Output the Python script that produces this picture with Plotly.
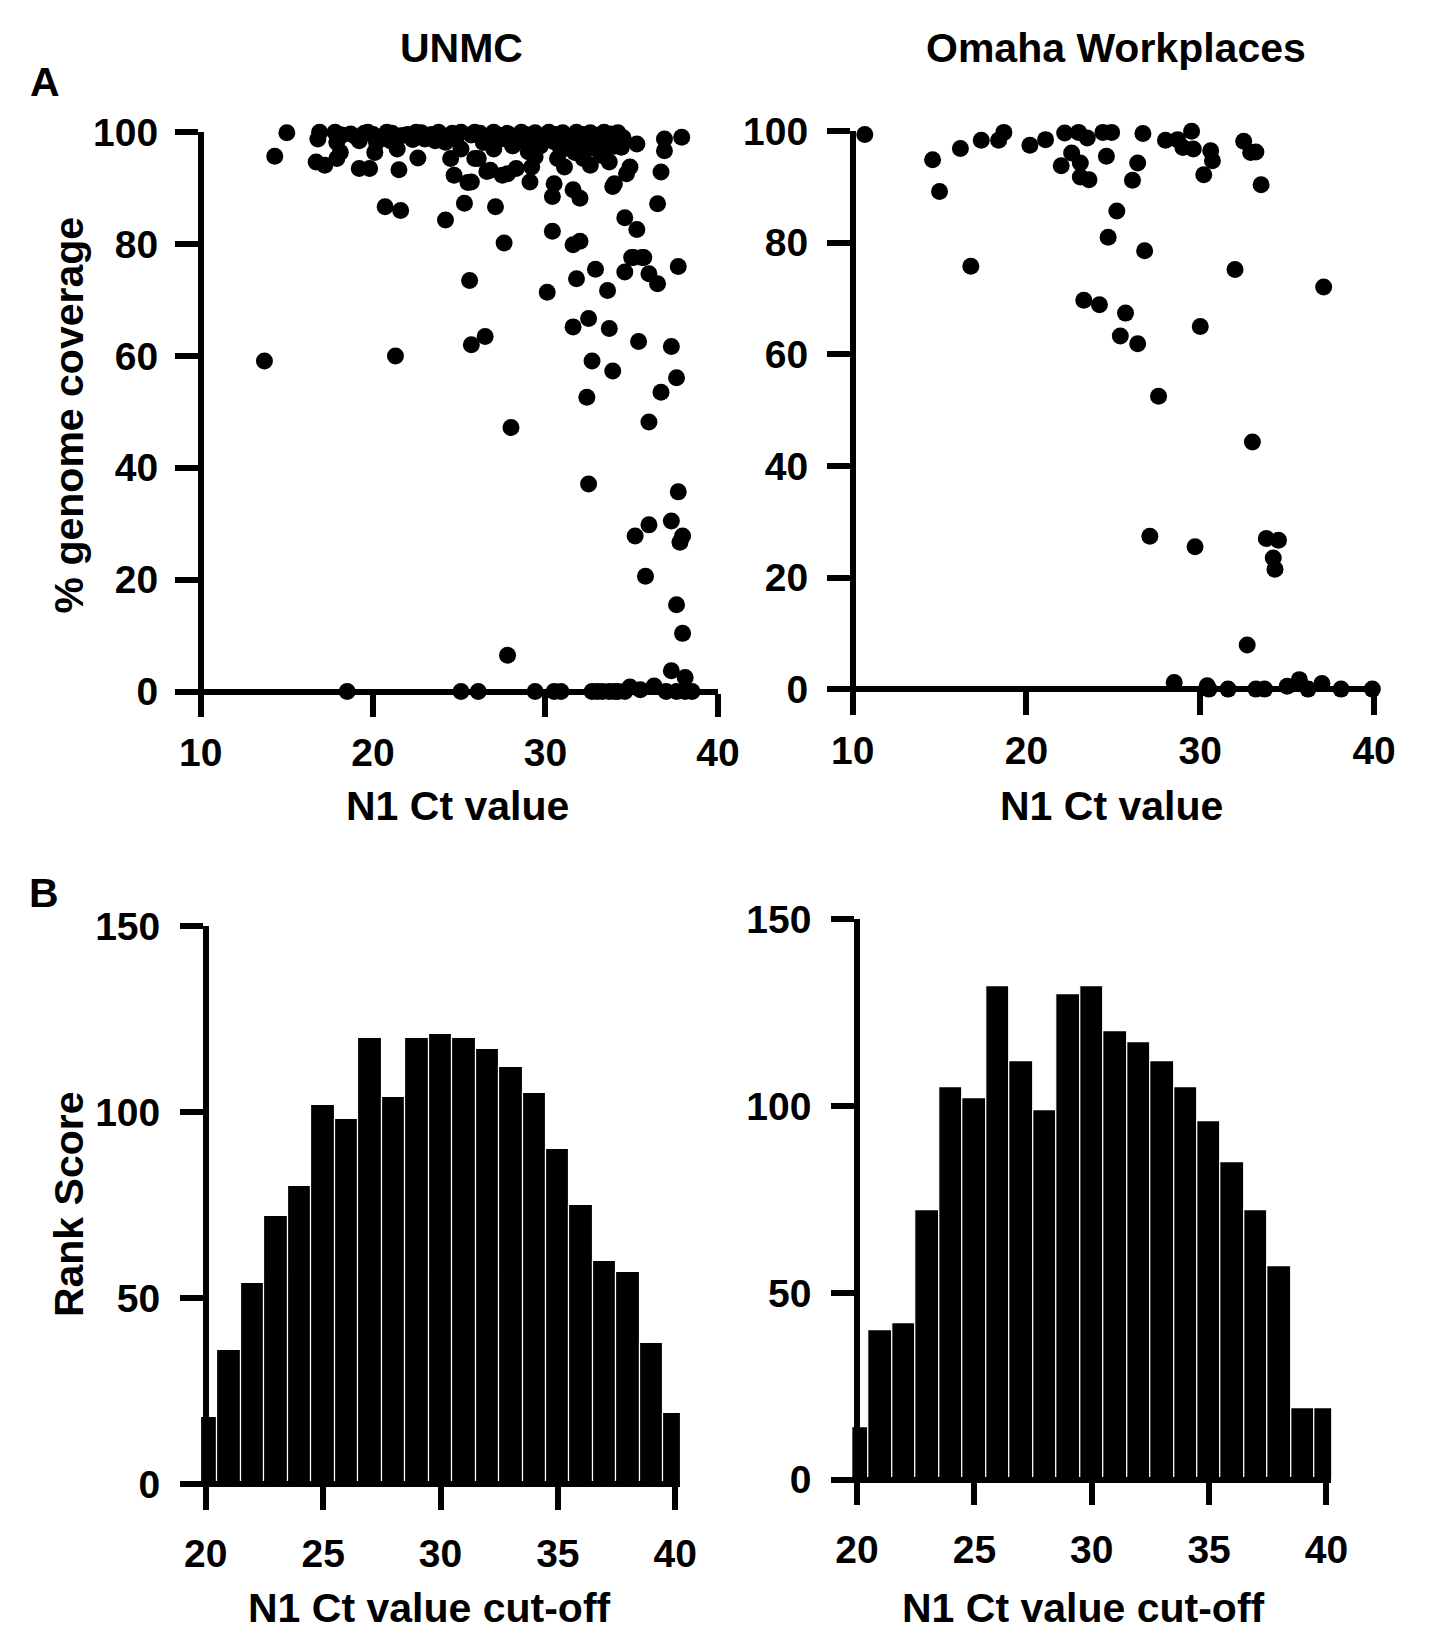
import plotly.graph_objects as go

W, H = 1430, 1632

# ---- Panel A: UNMC, N1 Ct value vs % genome coverage ----
unmc_ct = [
    15.0, 14.3, 16.9, 16.8, 17.8, 17.9, 16.7, 17.2, 17.9, 18.1, 19.2, 19.8, 21.5, 18.7, 19.2, 19.7,
    20.1, 20.2, 20.8, 21.4, 21.7, 22.5, 22.6, 23.0, 23.8, 24.2, 24.5, 24.7, 25.1, 25.5, 25.3, 24.2,
    20.7, 21.6, 25.9, 25.1, 25.9, 26.6,
    18.2, 19.0, 20.0, 20.5, 21.1, 22.0, 22.8, 23.4, 24.0, 24.6, 21.0, 22.3, 23.6, 19.5, 24.8,
    25.7, 26.2, 26.6, 27.0, 27.4, 27.8, 28.2, 28.6, 29.0, 29.4, 29.8, 30.2, 30.6, 31.0, 31.4, 31.8,
    32.2, 32.6, 33.0, 33.4, 33.8, 34.2, 34.5, 26.4, 27.4, 28.1, 28.9, 29.7, 30.5, 31.2, 32.0, 32.8,
    33.5, 34.0, 30.9, 32.4, 33.4, 29.0, 27.0,
    37.9, 36.9, 36.9, 36.7, 36.5, 35.3, 34.4, 34.9, 34.7, 34.0, 33.9, 33.7, 33.2, 32.6, 32.2, 31.7,
    31.1, 30.7, 31.6, 32.0, 30.5, 30.4, 30.4, 29.4, 29.1, 29.2, 28.3, 27.8, 27.5, 26.8, 26.1, 25.7,
    27.1, 27.6, 34.6, 35.3, 31.6, 32.0, 35.0, 35.7, 28.9, 29.7, 28.1, 27.4, 26.4,
    13.7, 21.3, 25.6, 25.7, 26.5, 30.1, 31.6, 32.5, 33.7, 31.8, 32.9, 33.6, 34.6, 35.1, 35.6, 36.0,
    36.5, 37.7, 35.4, 37.3, 32.7, 33.9, 37.6, 36.7, 32.4, 36.0, 28.0,
    32.5, 37.7, 35.2, 36.0, 37.3, 37.95, 37.8, 35.8, 37.6, 37.95, 27.8, 37.3, 38.1,
    18.5, 25.1, 26.1, 29.4, 30.5, 30.9, 32.7, 33.0, 33.3, 33.7, 34.0, 34.2, 34.6, 34.9, 35.5, 36.3,
    37.0, 37.6, 38.1, 38.5,
]
unmc_cov = [
    99.9, 95.7, 100.0, 98.8, 100.0, 98.2, 94.7, 94.1, 95.3, 96.4, 93.5, 93.5, 93.3, 99.7, 98.5, 100.0,
    96.4, 98.2, 100.0, 97.0, 99.4, 100.0, 95.4, 98.8, 100.0, 98.2, 95.3, 92.3, 97.0, 91.0, 87.3, 84.3,
    86.7, 86.0, 95.3, 100.0, 100.0, 93.0,
    99.5, 99.2, 99.6, 99.0, 99.8, 99.6, 99.9, 99.6, 99.3, 99.8, 98.5, 98.7, 98.5, 99.8, 98.9,
    99.5, 99.8, 99.2, 100.0, 99.4, 99.8, 99.2, 100.0, 99.5, 99.9, 99.3, 100.0, 99.6, 99.9, 99.2, 100.0,
    99.6, 99.9, 99.4, 100.0, 99.7, 99.9, 99.0, 98.2, 98.8, 97.6, 98.2, 97.6, 98.3, 97.9, 98.5, 97.8,
    98.2, 97.5, 96.8, 96.9, 97.0, 96.5, 97.0,
    99.1, 98.8, 96.7, 92.9, 87.2, 97.9, 97.3, 93.8, 92.6, 90.8, 90.3, 94.7, 95.9, 94.1, 95.3, 96.4,
    93.8, 95.3, 89.7, 88.2, 90.8, 88.5, 82.3, 95.6, 91.1, 93.8, 93.5, 92.6, 92.3, 93.2, 95.3, 91.1,
    86.7, 80.2, 84.7, 82.6, 79.9, 80.5, 77.6, 77.6, 98.2, 97.6, 97.6, 98.8, 98.2,
    59.1, 60.0, 73.5, 62.0, 63.5, 71.4, 65.2, 66.7, 64.9, 73.8, 75.5, 71.7, 75.0, 77.6, 77.6, 74.7,
    72.9, 76.0, 62.6, 61.7, 59.1, 57.3, 56.1, 53.5, 52.6, 48.2, 47.2,
    37.1, 35.7, 27.8, 29.8, 30.5, 27.8, 26.7, 20.6, 15.5, 10.4, 6.5, 3.7, 2.5,
    0.0, 0.0, 0.0, 0.0, 0.0, 0.0, 0.0, 0.0, 0.0, 0.0, 0.0, 0.0, 0.0, 0.8, 0.3, 1.0,
    0.0, 0.0, 0.0, 0.0,
]

# ---- Panel A: Omaha Workplaces ----
omaha_ct = [
    10.7, 14.6, 15.0, 16.2, 16.8, 17.4, 18.4, 18.7, 20.2, 21.1, 22.2, 23.0, 23.5, 22.6, 22.0, 23.1,
    23.1, 23.6, 24.6, 24.4, 24.9, 26.7, 26.4, 26.1, 25.2, 24.7, 26.8, 28.0, 28.7, 29.0, 29.5, 29.6,
    30.6, 30.7, 30.2, 32.5, 32.9, 33.2, 33.5, 32.0, 37.1, 23.3, 24.2, 25.7, 25.4, 26.4, 30.0, 27.6,
    33.0, 27.1, 29.7, 33.8, 34.5, 34.2, 34.3, 32.7,
    28.5, 30.4, 30.5, 31.6, 33.2, 33.7, 35.0, 35.7, 36.2, 37.0, 38.1, 39.9,
]
omaha_cov = [
    99.4, 94.9, 89.2, 96.9, 75.8, 98.4, 98.4, 99.8, 97.5, 98.5, 99.7, 99.8, 98.8, 96.1, 93.8, 94.3,
    91.8, 91.3, 95.5, 99.8, 99.8, 99.6, 94.3, 91.2, 85.7, 81.0, 78.6, 98.4, 98.5, 97.1, 100.0, 96.8,
    96.5, 94.7, 92.2, 98.2, 96.2, 96.3, 90.4, 75.2, 72.1, 69.7, 68.9, 67.4, 63.3, 61.9, 65.0, 52.5,
    44.3, 27.4, 25.5, 27.0, 26.7, 23.5, 21.5, 7.9,
    1.2, 0.6, 0.0, 0.0, 0.0, 0.0, 0.5, 1.7, 0.0, 1.0, 0.0, 0.0,
]

# ---- Panel B: rank score per N1 Ct cut-off ----
cutoff = [20, 21, 22, 23, 24, 25, 26, 27, 28, 29, 30, 31, 32, 33, 34, 35, 36, 37, 38, 39, 40]
unmc_rank = [18, 36, 54, 72, 80, 102, 98, 120, 104, 120, 121, 120, 117, 112, 105, 90, 75, 60, 57, 38, 19]
omaha_rank = [14, 40, 42, 72, 105, 102, 132, 112, 99, 130, 132, 120, 117, 112, 105, 96, 85, 72, 57, 19, 19]


def px(x):
    return x / W


def py(y):
    return 1 - y / H


FONT = "Liberation Sans, Arial, sans-serif"
LW = 5.5

fig = go.Figure()

fig.add_trace(go.Scatter(x=unmc_ct, y=unmc_cov, mode="markers", xaxis="x", yaxis="y",
                         marker=dict(color="black", size=17), cliponaxis=False))
fig.add_trace(go.Scatter(x=omaha_ct, y=omaha_cov, mode="markers", xaxis="x2", yaxis="y2",
                         marker=dict(color="black", size=17), cliponaxis=False))
fig.add_trace(go.Bar(x=cutoff, y=unmc_rank, xaxis="x3", yaxis="y3", width=1,
                     marker=dict(color="black", line=dict(color="white", width=1.2))))
fig.add_trace(go.Bar(x=cutoff, y=omaha_rank, xaxis="x4", yaxis="y4", width=1,
                     marker=dict(color="black", line=dict(color="white", width=1.2))))


def ax(**kw):
    d = dict(showline=True, linecolor="black", linewidth=LW, ticks="outside", ticklen=23,
             tickwidth=LW, tickcolor="black", showgrid=False, zeroline=False,
             tickfont=dict(family=FONT, size=39, color="black", weight="bold"),
             fixedrange=True)
    d.update(kw)
    return d


fig.update_layout(
    width=W, height=H, margin=dict(l=0, r=0, t=0, b=0),
    plot_bgcolor="white", paper_bgcolor="white", showlegend=False, bargap=0,
    # A left
    xaxis=ax(domain=[px(184.3), px(718)], range=[10, 40], tickvals=[10, 20, 30, 40],
             anchor="free", position=py(679.3), ticklabelstandoff=2),
    yaxis=ax(domain=[py(703.3), py(112.7)], range=[-4.24, 100], tickvals=[0, 20, 40, 60, 80, 100],
             anchor="free", position=px(184.3), ticklabelstandoff=9),
    # A right
    xaxis2=ax(domain=[px(857), px(1395)], range=[10, 40], tickvals=[10, 20, 30, 40],
              anchor="free", position=py(676.7), ticklabelstandoff=2),
    yaxis2=ax(domain=[py(700), py(111.7)], range=[-4.1, 100], tickvals=[0, 20, 40, 60, 80, 100],
              anchor="free", position=px(857), ticklabelstandoff=11),
    # B left
    xaxis3=ax(domain=[px(184.8), px(678.8)], range=[19.8, 40.2], tickvals=[20, 25, 30, 35, 40],
              anchor="free", position=py(1482), ticklabelstandoff=11),
    yaxis3=ax(domain=[py(1507), py(916.7)], range=[-6.6, 150], tickvals=[0, 50, 100, 150],
              anchor="free", position=px(189.6), ticklabelstandoff=12),
    # B right
    xaxis4=ax(domain=[px(856.7), px(1350.7)], range=[19.8, 40.2], tickvals=[20, 25, 30, 35, 40],
              anchor="free", position=py(1477.7), ticklabelstandoff=11),
    yaxis4=ax(domain=[py(1502), py(910)], range=[-6.4, 150], tickvals=[0, 50, 100, 150],
              anchor="free", position=px(861.5), ticklabelstandoff=12),
)


def label(text, x, y, size=41, angle=0):
    fig.add_annotation(text=text, x=px(x), y=py(y), xref="paper", yref="paper",
                       showarrow=False, textangle=angle, xanchor="center", yanchor="middle",
                       font=dict(family=FONT, size=size, color="black", weight="bold"))


label("UNMC", 453, 27)
label("Omaha Workplaces", 1129, 27)
label("A", 24, 62)
label("B", 23, 883)
label("% genome coverage", 48, 399, angle=-90)
label("Rank Score", 48, 1199, angle=-90)
label("N1 Ct value", 449, 795)
label("N1 Ct value", 1124, 795)
label("N1 Ct value cut-off", 420, 1608)
label("N1 Ct value cut-off", 1095, 1608)

fig.write_html("out.html", config={"displayModeBar": False},
               post_script="document.body.style.margin='0';")
